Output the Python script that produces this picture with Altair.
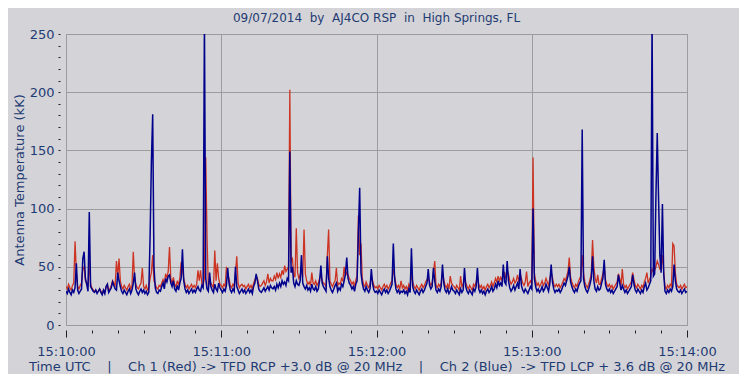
import altair as alt
import pandas as pd

TITLE = "09/07/2014  by  AJ4CO RSP  in  High Springs, FL"
Y_TITLE = "Antenna Temperature (kK)"
X_CAPTION = "Time UTC    |    Ch 1 (Red) -> TFD RCP +3.0 dB @ 20 MHz    |    Ch 2 (Blue)  -> TFD LCP + 3.6 dB @ 20 MHz"
X_TICK_SECONDS = [0, 60, 120, 180, 240]
X_TICK_LABELS = ["15:10:00", "15:11:00", "15:12:00", "15:13:00", "15:14:00"]
Y_MAX = 250
SAMPLE_STEP = 0.5  # seconds between samples

ch1_red = [
    33,31,35,32,30,34,36,72,45,33,31,34,36,48,50,38,36,33,55,35,
    32,30,29,30,28,29,31,29,27,30,28,33,35,29,31,34,38,36,34,55,
    42,57,38,33,31,34,32,30,33,35,31,34,63,40,35,32,31,34,36,49,
    33,31,34,30,32,40,45,60,38,35,32,31,34,33,36,39,35,44,40,46,
    67,40,36,41,35,33,38,34,40,54,48,40,35,32,34,31,33,35,32,34,
    32,35,47,38,47,36,34,40,144,76,33,38,36,34,32,64,38,53,40,35,
    34,32,35,33,50,42,40,34,32,35,33,45,59,36,32,34,35,33,34,31,
    33,35,32,34,31,36,39,42,40,35,33,34,36,38,34,37,44,36,40,38,
    38,42,39,45,40,44,41,47,43,51,46,48,50,202,55,57,44,41,83,45,
    40,43,48,41,82,44,38,35,37,34,45,36,35,38,34,36,40,42,38,36,
    35,33,60,82,38,35,33,36,38,49,34,36,35,40,38,50,42,45,43,40,
    38,35,37,33,39,42,94,60,70,40,35,33,37,34,32,35,42,38,34,32,
    33,31,34,32,30,33,35,32,34,31,33,36,38,48,42,35,32,34,31,38,
    32,34,31,33,30,35,32,45,37,33,31,34,32,30,33,35,32,34,37,39,
    40,37,34,36,45,55,34,32,35,33,36,45,39,34,32,35,31,42,36,34,
    33,31,34,32,30,42,33,35,40,36,33,31,34,32,30,35,33,37,42,35,
    32,34,31,33,30,33,35,32,34,37,33,36,40,37,42,38,41,38,45,45,
    40,47,44,38,35,37,40,36,38,43,37,44,40,36,34,37,46,33,36,38,
    35,144,45,38,34,36,33,35,38,34,36,40,37,34,40,45,41,35,33,35,
    33,35,32,34,37,40,38,42,46,58,41,37,34,32,35,33,37,40,42,60,
    45,37,34,32,35,39,44,73,50,40,36,43,35,35,40,44,50,39,35,33,
    35,32,34,31,33,35,37,44,40,34,48,35,32,34,31,33,35,37,45,39,
    34,32,35,33,31,34,32,37,40,45,36,39,42,48,46,47,50,55,52,48,
    48,60,46,33,31,34,32,35,33,70,68,45,35,33,32,34,31,33,35,32,
    33,
]

ch2_blue = [
    29,27,31,28,26,30,28,32,53,30,27,29,31,57,63,40,35,29,97,33,
    31,29,28,30,27,29,31,28,26,30,27,33,35,28,30,32,37,34,31,30,
    45,38,33,29,27,30,28,26,29,31,27,30,36,45,31,28,26,29,31,28,
    30,27,29,26,28,76,140,181,50,32,28,27,30,29,33,36,31,40,37,42,
    43,36,33,38,31,29,34,30,36,40,65,38,31,28,30,27,29,31,28,30,
    28,31,33,30,29,34,32,262,40,31,29,45,33,30,28,35,31,29,36,32,
    30,28,31,29,34,49,36,30,28,31,29,50,33,30,27,29,31,28,30,27,
    29,31,28,30,27,33,36,44,38,31,29,28,30,32,29,31,33,30,34,32,
    31,33,30,35,32,36,33,38,35,37,34,40,38,149,45,50,36,33,38,35,
    34,38,60,36,33,31,34,30,32,29,35,31,30,33,29,31,38,51,36,33,
    31,29,59,40,33,30,28,31,34,36,29,32,30,35,33,38,44,58,40,36,
    34,31,33,29,35,38,80,118,45,36,31,29,33,30,28,31,48,35,30,28,
    29,27,30,28,26,29,31,28,30,27,29,32,35,70,40,31,28,30,27,29,
    28,30,27,29,26,31,28,66,33,29,27,30,28,26,29,31,28,30,33,36,
    48,34,31,33,49,38,30,28,31,29,33,52,36,30,28,31,27,29,33,30,
    29,27,30,28,26,31,28,30,49,33,29,27,30,28,26,31,29,33,49,31,
    28,30,27,29,26,29,31,28,30,33,29,31,35,32,38,34,36,33,52,37,
    35,55,38,32,29,31,34,30,33,36,31,48,34,30,28,31,29,27,30,33,
    31,100,40,33,29,31,28,30,33,29,31,35,32,29,36,52,37,31,28,30,
    29,31,28,30,33,36,34,38,42,50,37,33,30,28,31,29,33,36,38,168,
    40,33,30,28,31,35,40,59,38,31,29,33,30,31,36,40,56,35,31,29,
    31,28,30,27,29,31,33,43,36,30,34,31,28,30,27,29,31,33,43,35,
    30,28,31,29,27,30,28,33,36,30,32,35,38,262,42,44,112,165,110,60,
    45,104,44,29,27,30,28,31,29,33,52,38,31,29,28,30,27,29,31,28,
    29,
]

BG = "#d4d4d8"
TEXT = "#1f3b73"
FONT = "DejaVu Sans"
RED = "#cc3322"
BLUE = "#00008c"
GRID = "#9c9c9c"

df_red = pd.DataFrame({"t": [i * SAMPLE_STEP for i in range(len(ch1_red))], "v": ch1_red})
df_blue = pd.DataFrame({"t": [i * SAMPLE_STEP for i in range(len(ch2_blue))], "v": ch2_blue})

label_expr = ""
for s, lab in zip(X_TICK_SECONDS, X_TICK_LABELS):
    label_expr += f"datum.value === {s} ? '{lab}' : "
label_expr += "''"

nb = lambda s: s.replace(" ", "\u00a0")

x_enc = alt.X(
    "t:Q",
    scale=alt.Scale(domain=[X_TICK_SECONDS[0], X_TICK_SECONDS[-1]], nice=False, zero=False),
    axis=alt.Axis(
        values=list(range(0, 241, 10)),
        labelExpr=label_expr,
        tickSize={"condition": {"test": "datum.value % 60 === 0", "value": 7}, "value": 3},
        tickColor="#202020",
        domain=False,
        offset=5,
        grid=True,
        gridColor=GRID,
        gridOpacity={"condition": {"test": "datum.value % 60 === 0", "value": 1}, "value": 0},
        labelColor=TEXT,
        labelFont=FONT,
        labelFontSize=13,
        labelPadding=8,
        labelFlush=False,
        title=nb(X_CAPTION),
        titleColor=TEXT,
        titleFont=FONT,
        titleFontSize=13,
        titleFontWeight="normal",
        titlePadding=2,
    ),
)

y_enc = alt.Y(
    "v:Q",
    scale=alt.Scale(domain=[0, Y_MAX], nice=False),
    axis=alt.Axis(
        values=list(range(0, Y_MAX + 1, 10)),
        labelExpr="datum.value % 50 === 0 ? datum.label : ''",
        tickSize=2,
        tickColor="#202020",
        domain=False,
        offset=6,
        grid=True,
        gridColor=GRID,
        gridOpacity={"condition": {"test": "datum.value % 50 === 0", "value": 1}, "value": 0},
        labelColor=TEXT,
        labelFont=FONT,
        labelFontSize=13,
        labelPadding=4,
        title=Y_TITLE,
        titleColor=TEXT,
        titleFont=FONT,
        titleFontSize=13,
        titleFontWeight="normal",
        titlePadding=3,
    ),
)

red_line = alt.Chart(df_red).mark_line(color=RED, strokeWidth=1.3, clip=True).encode(x=x_enc, y=y_enc)
blue_line = alt.Chart(df_blue).mark_line(color=BLUE, strokeWidth=1.5, clip=True).encode(x=x_enc, y=y_enc)

chart = (
    alt.layer(red_line, blue_line)
    .properties(
        width=621,
        height=291,
        background=BG,
        padding={"left": 58, "top": 26, "right": 52, "bottom": 49},
        autosize=alt.AutoSizeParams(type="none"),
        title=alt.TitleParams(
            nb(TITLE),
            color=TEXT,
            font=FONT,
            fontSize=12,
            fontWeight="normal",
            anchor="middle",
            frame="group",
            offset=3,
        ),
    )
    .configure_view(stroke="#8a8a8a", strokeWidth=1, fill=BG)
)

chart.save("out.html", embed_options={"renderer": "svg", "actions": False})
